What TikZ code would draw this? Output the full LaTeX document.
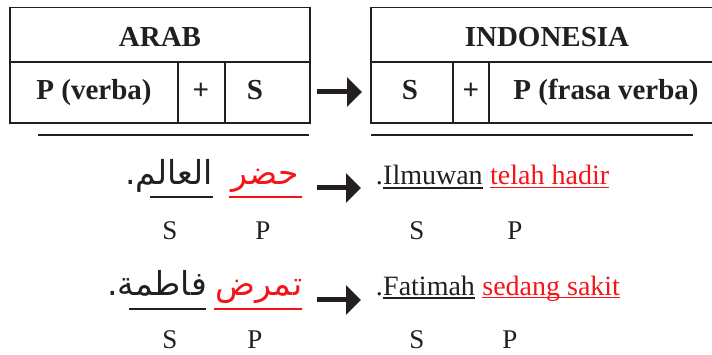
\documentclass[tikz,border=0pt]{standalone}
\usepackage{fontspec}
\setmainfont{Liberation Serif}
\newfontfamily\arabicfont[Script=Arabic]{DejaVu Sans}
\TeXXeTstate=1
\usetikzlibrary{arrows.meta}
\definecolor{ink}{RGB}{35,31,32}
\definecolor{hl}{RGB}{245,20,25}
\tikzset{
  head/.style={font=\fontsize{29}{34}\selectfont\bfseries, text=ink, inner sep=0pt, anchor=base},
  word/.style={font=\fontsize{28}{32}\selectfont, text=ink, inner sep=0pt, anchor=base west},
  tag/.style={font=\fontsize{27}{32}\selectfont, text=ink, inner sep=0pt, anchor=base},
  ar/.style={font=\arabicfont\fontsize{33}{38}\selectfont, text=ink, inner sep=0pt, anchor=base},
  grid/.style={draw=ink, line width=1.5pt},
  rule/.style={draw=ink, line width=1.3pt},
  uline/.style={draw=ink, line width=1.2pt},
  hline/.style={draw=hl, line width=1.8pt},
  goes/.style={draw=ink, line width=5pt, -{Triangle[length=15pt,width=29pt]}}
}
\begin{document}
\begin{tikzpicture}[x=1pt,y=-1pt]
\useasboundingbox (0,0) rectangle (712,355);

% Arabic pattern table
\draw[grid] (10,7.5) rectangle (310,123);
\draw[grid] (10,62) -- (310,62);
\draw[grid] (178,62) -- (178,123);
\draw[grid] (225,62) -- (225,123);
\node[head] (arab) at (160,47) {ARAB};
\node[head] (pv) at (94,100) {P (verba)};
\node[head] (plusa) at (201,100) {+};
\node[head] (sa) at (255,100) {S};
\draw[rule] (38,135) -- (309,135);

% Indonesian pattern table
\draw[grid] (714,7.5) -- (371,7.5) -- (371,123) -- (714,123);
\draw[grid] (371,62) -- (714,62);
\draw[grid] (453,62) -- (453,123);
\draw[grid] (489,62) -- (489,123);
\node[head] (indo) at (547,47) {INDONESIA};
\node[head] (sb) at (410,100) {S};
\node[head] (plusb) at (471,100) {+};
\node[head] (pfv) at (606,100) {P (frasa verba)};
\draw[rule] (371,135) -- (693,135);

% arrows
\coordinate (t0) at (317,92);   \coordinate (t1) at (362,92);
\coordinate (r0) at (317,188);  \coordinate (r1) at (361,188);
\coordinate (q0) at (317,300);  \coordinate (q1) at (361,300);
\draw[goes] (t0) -- (t1);
\draw[goes] (r0) -- (r1);
\draw[goes] (q0) -- (q1);

% example 1
\node[ar, anchor=base east] (alim) at (213,185) {\beginR العالم.\endR};
\node[ar, text=hl] (hadara) at (265,185) {\beginR حضر\endR};
\draw[uline] (150,197) -- (213,197);
\draw[hline] (229,197) -- (302,197);
\node[word] (ilm) at (383,185) {Ilmuwan};
\node[word, anchor=base east] (dota) at (ilm.base west) {.};
\node[word, text=hl] (telah) at ([xshift=7pt]ilm.base east) {telah hadir};
\draw[uline] ([yshift=-3pt]ilm.base west) -- ([yshift=-3pt]ilm.base east);
\draw[hline] ([yshift=-2.5pt]telah.base west) -- ([yshift=-2.5pt]telah.base east);
\node[tag] (sl1) at (170,240) {S};
\node[tag] (pl1) at (263,240) {P};
\node[tag] (sr1) at (417,240) {S};
\node[tag] (pr1) at (515,240) {P};

% example 2
\node[ar, anchor=base east] (fatimah) at (207,295) {\beginR فاطمة.\endR};
\node[ar, text=hl] (marida) at (259,295) {\beginR تمرض\endR};
\draw[uline] (129,309) -- (206,309);
\draw[hline] (214,309) -- (302,309);
\node[word] (fat) at (383,295) {Fatimah};
\node[word, anchor=base east] (dotb) at (fat.base west) {.};
\node[word, text=hl] (sedang) at ([xshift=7pt]fat.base east) {sedang sakit};
\draw[uline] ([yshift=-3pt]fat.base west) -- ([yshift=-3pt]fat.base east);
\draw[hline] ([yshift=-2.5pt]sedang.base west) -- ([yshift=-2.5pt]sedang.base east);
\node[tag] (sl2) at (170,348) {S};
\node[tag] (pl2) at (255,348) {P};
\node[tag] (sr2) at (417,348) {S};
\node[tag] (pr2) at (510,348) {P};
\end{tikzpicture}
\end{document}
